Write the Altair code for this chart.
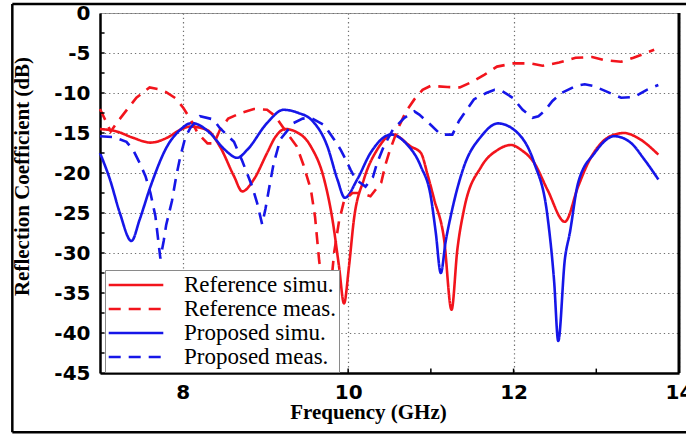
import altair as alt
import pandas as pd

series = ["Reference simu.", "Reference meas.", "Proposed simu.", "Proposed meas."]
colors = ["#f2141c", "#f2141c", "#1616e8", "#1616e8"]

ref_simu_f = [7.0, 7.2, 7.4, 7.61, 7.81, 7.97, 8.09, 8.29, 8.45, 8.62, 8.72, 8.86, 9.02, 9.12, 9.24, 9.36,
              9.55, 9.71, 9.81, 9.89, 9.95, 10.01, 10.07, 10.19, 10.35, 10.54, 10.76, 10.88, 10.96, 11.04,
              11.16, 11.25, 11.32, 11.40, 11.61, 11.81, 11.97, 12.09, 12.25, 12.41, 12.62, 12.78, 12.9,
              13.06, 13.22, 13.34, 13.5, 13.75]
ref_simu_v = [-14.5, -14.8, -15.6, -16.2, -15.6, -14.6, -14.2, -14.6, -16.7, -20.4, -22.3, -20.8, -17.5,
              -15.5, -14.5, -14.8, -16.7, -20.8, -25.8, -31.7, -36.3, -31.7, -25.8, -20.8, -17.1, -15.2,
              -16.7, -17.5, -20.2, -23.3, -28.3, -37.1, -29.6, -24.6, -19.2, -17.1, -16.5, -17.1, -18.75,
              -22.1, -26.1, -21.7, -18.75, -16.25, -15.2, -15.0, -15.6, -17.7]

ref_meas_f = [7.0, 7.06, 7.13, 7.22, 7.34, 7.44, 7.6, 7.7, 7.8, 7.92, 8.01, 8.1, 8.18, 8.3, 8.38, 8.45,
              8.55, 8.7, 8.86, 9.02, 9.12, 9.26, 9.38, 9.46, 9.55, 9.6, 9.65, 9.72, 9.78, 9.83, 9.89,
              9.95, 10.05, 10.15, 10.27, 10.4, 10.45, 10.5, 10.6, 10.7, 10.8, 10.9, 11.0, 11.2, 11.35,
              11.5, 11.65, 11.8, 12.0, 12.2, 12.35, 12.55, 12.75, 12.95, 13.1, 13.3, 13.45, 13.7]
ref_meas_v = [-12.0, -13.3, -14.8, -13.5, -11.9, -10.6, -9.3, -9.5, -9.9, -10.7, -11.9, -13.4, -15.0,
              -16.3, -16.3, -14.6, -13.2, -12.5, -12.0, -12.1, -12.9, -15.0, -16.7, -19.0, -22.1, -25.5,
              -31.0, -36.0, -35.5, -30.0, -26.0, -23.5, -22.5, -22.5, -22.9, -21.2, -19.0, -17.3, -14.5,
              -12.3, -10.8, -9.6, -9.1, -9.25, -9.3, -8.6, -7.7, -6.7, -6.3, -6.3, -6.6, -6.2, -5.6, -5.5,
              -5.9, -6.1, -5.6, -4.6]

pro_simu_f = [7.0, 7.12, 7.24, 7.38, 7.48, 7.61, 7.81, 7.97, 8.11, 8.33, 8.5, 8.66, 8.78, 9.02, 9.22,
              9.4, 9.55, 9.75, 9.87, 9.96, 10.11, 10.27, 10.52, 10.7, 10.88, 11.0, 11.06, 11.12, 11.18,
              11.24, 11.4, 11.61, 11.81, 12.05, 12.25, 12.41, 12.49, 12.54, 12.62, 12.68, 12.78, 12.98,
              13.22, 13.42, 13.58, 13.75]
pro_simu_v = [-17.5, -20.8, -25.0, -28.5, -25.8, -21.7, -16.7, -14.6, -13.75, -15.0, -17.0, -18.1,
              -17.1, -13.75, -12.1, -12.5, -13.3, -16.7, -20.8, -23.1, -20.8, -17.5, -15.2, -16.3, -19.2,
              -23.0, -27.5, -32.5, -28.5, -25.4, -19.2, -15.4, -13.8, -15.0, -18.75, -25.4, -33.5, -41.0,
              -30.8, -27.5, -21.25, -17.5, -15.4, -16.25, -18.3, -20.8]

pro_meas_f = [7.0, 7.16, 7.32, 7.4, 7.48, 7.55, 7.61, 7.67, 7.73, 7.77, 7.8, 7.87, 7.92, 7.97, 8.03,
              8.09, 8.21, 8.37, 8.45, 8.55, 8.62, 8.72, 8.84, 8.9, 8.96, 9.0, 9.06, 9.1, 9.18, 9.34,
              9.45, 9.55, 9.71, 9.83, 9.91, 9.97, 10.03, 10.09, 10.21, 10.3, 10.35, 10.43, 10.54, 10.68,
              10.8, 10.86, 11.0, 11.12, 11.26, 11.34, 11.42, 11.52, 11.67, 11.77, 11.85, 11.99, 12.11,
              12.23, 12.3, 12.37, 12.47, 12.58, 12.76, 12.86, 12.96, 13.12, 13.3, 13.46, 13.61, 13.75]
pro_meas_v = [-15.4, -15.5, -16.1, -17.1, -18.75, -20.4, -22.5, -25.4, -30.7, -28.5, -26.5, -23.5,
              -20.5, -18.0, -15.6, -14.4, -12.9, -13.3, -14.4, -15.4, -16.1, -18.5, -21.7, -23.75, -26.4,
              -24.5, -21.0, -18.8, -15.8, -13.75, -13.2, -13.1, -14.0, -15.8, -17.1, -18.3, -19.6, -20.8,
              -21.7, -20.5, -18.75, -16.7, -14.6, -13.1, -12.3, -12.7, -14.0, -15.2, -15.2, -13.5, -12.3,
              -10.8, -10.0, -9.6, -9.7, -10.6, -12.1, -13.1, -12.9, -12.3, -11.0, -10.0, -9.1, -8.9, -9.1,
              -9.8, -10.6, -10.5, -9.6, -9.0]

x_ticks = [8, 10, 12, 14]
y_ticks = [-45, -40, -35, -30, -25, -20, -15, -10, -5, 0]
x_minor = [8, 9, 10, 11, 12, 13]
y_minor = [-42.5, -40, -37.5, -35, -32.5, -30, -27.5, -25, -22.5, -20, -17.5, -15, -12.5, -10, -7.5, -5, -2.5]

rows = []
for name, kind, fs, vs in [
    (series[0], "simu", ref_simu_f, ref_simu_v),
    (series[1], "meas", ref_meas_f, ref_meas_v),
    (series[2], "simu", pro_simu_f, pro_simu_v),
    (series[3], "meas", pro_meas_f, pro_meas_v),
]:
    for i, (f, v) in enumerate(zip(fs, vs)):
        rows.append({"series": name, "kind": kind, "f": f, "v": v, "i": i})
df = pd.DataFrame(rows)

x_scale = alt.Scale(domain=[7, 14], nice=False, zero=False)
y_scale = alt.Scale(domain=[-45, 0], nice=False, zero=False)

common = dict(grid=True, ticks=False, domainColor="black", domainWidth=2.5,
              gridColor="#707070", gridDash=[1.3, 3], gridWidth=1.2,
              labelFont="DejaVu Sans", labelFontWeight="bold", labelFontSize=20, labelColor="black",
              labelFlush=False, labelOverlap=False, labelExpr="'' + datum.value",
              titleFont="Liberation Serif", titleFontWeight="bold", titleFontSize=21, titleColor="black",
              titleBaseline="alphabetic", tickCount=40)
x_axis = alt.Axis(values=x_ticks, title="Frequency (GHz)", labelPadding=9,
                  titleX=268, titleY=45, **common)
y_axis = alt.Axis(values=y_ticks, title="Reflection Coefficient (dB)", labelPadding=10,
                  titleX=-72, titleY=163, titleAngle=270, **common)

X = alt.X("f:Q", scale=x_scale, axis=x_axis)
Y = alt.Y("v:Q", scale=y_scale, axis=y_axis)

leg = alt.Legend(title=None, orient="none", legendX=5, legendY=257,
                 symbolType="M-2.6,0H2.6", symbolSize=441, symbolStrokeWidth=2.5, symbolOffset=16,
                 labelFont="Liberation Serif", labelFontSize=23, labelColor="black", labelOffset=36,
                 strokeColor="#8a8a8a", fillColor="white", padding=3, rowPadding=0)
color = alt.Color("series:N", scale=alt.Scale(domain=series, range=colors), legend=leg)
dash = alt.StrokeDash("series:N", scale=alt.Scale(domain=series, range=[[1, 0], [12, 8], [1, 0], [12, 8]]),
                      legend=leg)

base = alt.Chart(df).encode(x=X, y=Y, color=color, strokeDash=dash, order="i:Q")
simu = base.transform_filter(alt.datum.kind == "simu").mark_line(interpolate="monotone", strokeWidth=2.6)
meas = base.transform_filter(alt.datum.kind == "meas").mark_line(strokeWidth=2.6)

xt = alt.Chart(pd.DataFrame({"f": x_minor})).mark_rule(color="black", strokeWidth=1.5).encode(
    x=X, y=alt.datum(-45), y2=alt.datum(-44.45))
yt = alt.Chart(pd.DataFrame({"v": y_minor})).mark_rule(color="black", strokeWidth=1.5).encode(
    y=Y, x=alt.datum(7), x2=alt.datum(7.055))
right = alt.Chart(pd.DataFrame({"f": [14]})).mark_rule(color="black", strokeWidth=3).encode(
    x=X, y=alt.datum(-45), y2=alt.datum(0))

# outer picture frame (decorative), positioned through the same scales
frame_df = pd.DataFrame({"a": [0]})
fl = alt.Chart(frame_df).mark_rule(color="black", strokeWidth=2.5).encode(
    x=alt.datum(5.94), y=alt.datum(1.125), y2=alt.datum(-52.4))
ft = alt.Chart(frame_df).mark_rule(color="black", strokeWidth=2.5).encode(
    x=alt.datum(5.94), x2=alt.datum(14.3), y=alt.datum(1.125))
fb = alt.Chart(frame_df).mark_rule(color="black", strokeWidth=2.5).encode(
    x=alt.datum(5.94), x2=alt.datum(14.3), y=alt.datum(-52.4))

chart = alt.layer(simu, meas, xt, yt, right, fl, ft, fb).properties(
    width=579, height=360, autosize="none",
    padding={"left": 100, "top": 13, "right": 7, "bottom": 64},
).configure_view(stroke="#9a9a9a", strokeWidth=1)

chart.save("out.html", embed_options={"renderer": "svg", "actions": False})
